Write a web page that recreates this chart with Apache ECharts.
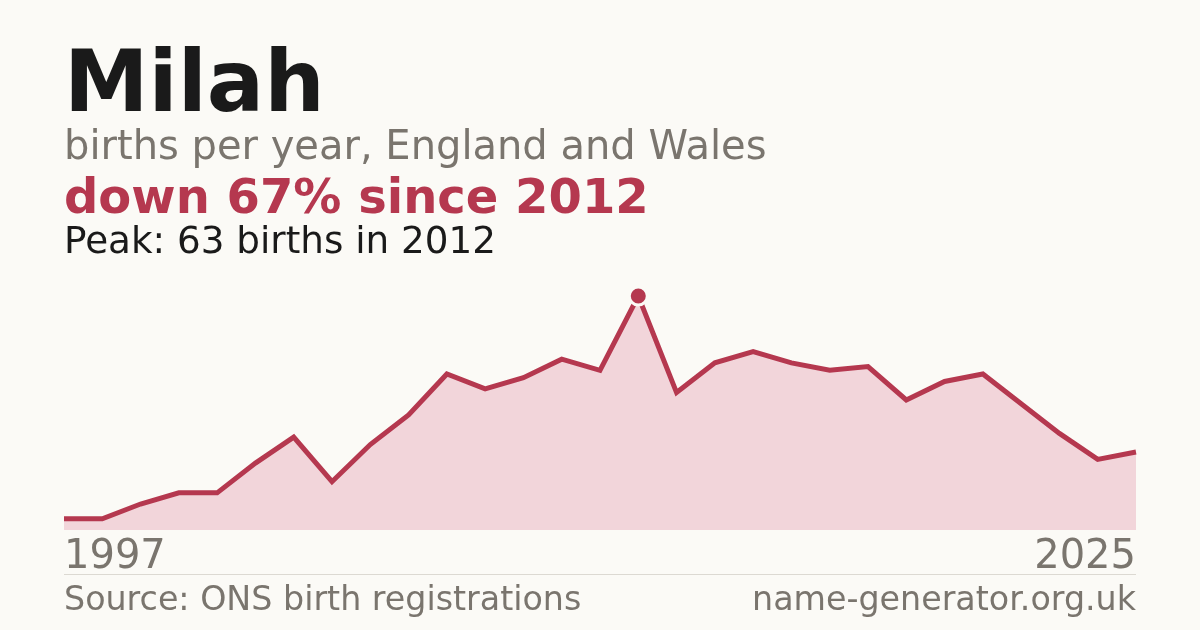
<!DOCTYPE html>
<html>
<head>
<meta charset="utf-8">
<script src="https://cdn.jsdelivr.net/npm/echarts@6/dist/echarts.min.js"></script>
<style>
html,body{margin:0;padding:0;background:#fbfaf6;}
#c{width:1200px;height:630px;}
</style>
</head>
<body>
<div id="c"></div>
<script>
const years = ['1997','1998','1999','2000','2001','2002','2003','2004','2005','2006','2007','2008','2009','2010','2011','2012','2013','2014','2015','2016','2017','2018','2019','2020','2021','2022','2023','2024','2025'];
const births = [3,3,7,10,10,18,25,13,23,31,42,38,41,46,43,63,37,45,48,45,43,44,35,40,42,34,26,19,21];
const tickLabels = ['1997','2025'];
const nameTitle = 'Milah';
const subtitle = 'births per year, England and Wales';
const sourceText = 'Source: ONS birth registrations';
const siteText = 'name-generator.org.uk';

let peakIdx = 0;
births.forEach((v,i)=>{ if (v > births[peakIdx]) peakIdx = i; });
const peakVal = births[peakIdx];
const peakYear = years[peakIdx];
const lastVal = births[births.length-1];
const pct = Math.round((peakVal - lastVal) / peakVal * 100);
const changeText = (lastVal < peakVal ? 'down ' : 'up ') + pct + '% since ' + peakYear;
const peakText = 'Peak: ' + peakVal + ' births in ' + peakYear;

const RED = '#b5384f';
const GREY = '#7a756e';
const BG = '#fbfaf6';
const FONT = 'DejaVu Sans';

const chart = echarts.init(document.getElementById('c'));
chart.setOption({
  backgroundColor: BG,
  animation: false,
  grid: {left: 64, right: 64, top: 296, bottom: 100, containLabel: false},
  xAxis: {
    type: 'category',
    data: years,
    boundaryGap: false,
    axisLine: {show: false},
    axisTick: {show: false},
    splitLine: {show: false},
    axisLabel: {
      show: true,
      interval: 0,
      margin: 8,
      color: GREY,
      fontFamily: FONT,
      fontSize: 40,
      alignMinLabel: 'left',
      alignMaxLabel: 'right',
      formatter: function(v){ return tickLabels.indexOf(v) >= 0 ? v : ''; }
    }
  },
  yAxis: {
    type: 'value',
    min: 0,
    max: peakVal,
    show: false,
    splitLine: {show: false}
  },
  series: [
    {
      type: 'line',
      data: births,
      symbol: 'none',
      lineStyle: {color: RED, width: 5, join: 'miter'},
      areaStyle: {color: '#f2d5da', opacity: 1},
      z: 2
    },
    {
      type: 'scatter',
      data: [[peakIdx, peakVal]],
      symbol: 'circle',
      symbolSize: 18,
      itemStyle: {color: RED, borderColor: BG, borderWidth: 3, opacity: 1},
      clip: false,
      z: 3
    }
  ],
  graphic: [
    {type:'text', x: 64, y: 89, style:{text: nameTitle, font: 'bold 85px "DejaVu Sans"', fill: '#1a1a1a', verticalAlign: 'middle', align: 'left'}},
    {type:'text', x: 64, y: 149, style:{text: subtitle, font: '40px "DejaVu Sans"', fill: GREY, verticalAlign: 'middle', align: 'left'}},
    {type:'text', x: 64, y: 200.5, style:{text: changeText, font: 'bold 48px "DejaVu Sans"', fill: RED, verticalAlign: 'middle', align: 'left'}},
    {type:'text', x: 64, y: 243.5, style:{text: peakText, font: '37.3px "DejaVu Sans"', fill: '#1a1a1a', verticalAlign: 'middle', align: 'left'}},
    {type:'line', shape:{x1: 64, y1: 574.5, x2: 1136, y2: 574.5}, style:{stroke: '#dcd9d2', lineWidth: 1}},
    {type:'text', x: 64, y: 601, style:{text: sourceText, font: '33.3px "DejaVu Sans"', fill: GREY, verticalAlign: 'middle', align: 'left'}},
    {type:'text', x: 1136, y: 601, style:{text: siteText, font: '33.3px "DejaVu Sans"', fill: GREY, verticalAlign: 'middle', align: 'right'}}
  ]
});
</script>
</body>
</html>
